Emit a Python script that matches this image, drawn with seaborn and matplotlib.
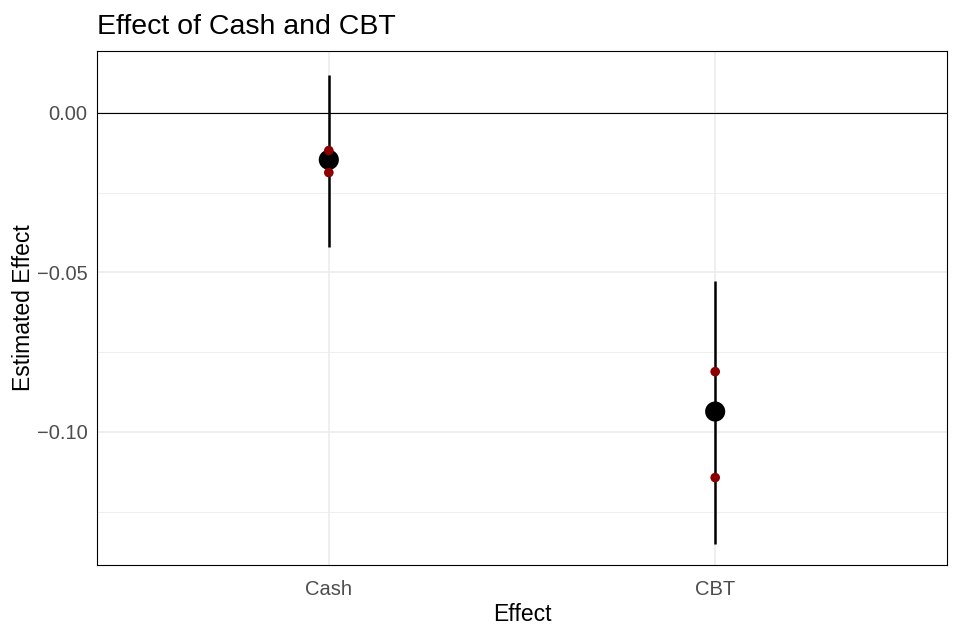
import numpy as np
import pandas as pd
import matplotlib
matplotlib.use("Agg")
import matplotlib.pyplot as plt
import seaborn as sns
from matplotlib.ticker import FixedLocator

sns.set_theme(style="white")
plt.rcParams['font.family'] = ['Liberation Sans', 'DejaVu Sans']

# data
effects = ["Cash", "CBT"]
estimate = [-0.0147, -0.0936]
ci_low = [-0.0419, -0.1351]
ci_high = [0.0119, -0.0526]
inner_low = [-0.0187, -0.1143]
inner_high = [-0.0118, -0.0811]

df = pd.DataFrame({"Effect": effects, "Estimate": estimate,
                   "lo": ci_low, "hi": ci_high})
inner = pd.DataFrame({"Effect": effects * 2,
                      "value": inner_low + inner_high})

fig = plt.figure(figsize=(9.6, 6.4), dpi=100)
ax = fig.add_axes([97 / 960, 1 - 565 / 640, 850 / 960, 514 / 640])

# grid
ax.set_ylim(-0.1417, 0.0194)
ax.yaxis.set_major_locator(FixedLocator([0.0, -0.05, -0.10]))
ax.yaxis.set_minor_locator(FixedLocator([-0.025, -0.075, -0.125]))
ax.grid(True, which="major", axis="y", color="#EBEBEB", linewidth=1.1, zorder=0)
ax.grid(True, which="minor", axis="y", color="#EBEBEB", linewidth=0.55, zorder=0)

ax.axhline(0, color="black", linewidth=0.8, zorder=1)

sns.scatterplot(data=df, x="Effect", y="Estimate", ax=ax, color="black",
                s=210, edgecolor="none", zorder=4)
pos = np.arange(len(effects))
ax.vlines(pos, df["lo"], df["hi"], color="black", linewidth=1.8, zorder=3)
for p in pos:
    ax.axvline(p, color="#EBEBEB", linewidth=1.1, zorder=0)
sns.scatterplot(data=inner, x="Effect", y="value", ax=ax, color="#8B0000",
                s=48, edgecolor="none", zorder=5)

ax.set_xlim(-0.6, 1.6)
ax.set_yticklabels(["0.00", "\u22120.05", "\u22120.10"])
ax.tick_params(axis="both", which="both", length=0, labelsize=14.5,
               labelcolor="#4D4D4D")
ax.tick_params(axis="x", pad=11)
ax.tick_params(axis="y", pad=7)
ax.set_xlabel("Effect", fontsize=16.5, color="black")
ax.set_ylabel("Estimated Effect", fontsize=16.5, color="black")
ax.yaxis.set_label_coords(-0.073, 0.5)
ax.xaxis.set_label_coords(0.5, -0.074)
ax.set_title("Effect of Cash and CBT", loc="left", fontsize=20.5, pad=12,
             color="black")

for sp in ax.spines.values():
    sp.set_visible(True)
    sp.set_color("black")
    sp.set_linewidth(0.8)

fig.savefig("out.png", dpi=100)
